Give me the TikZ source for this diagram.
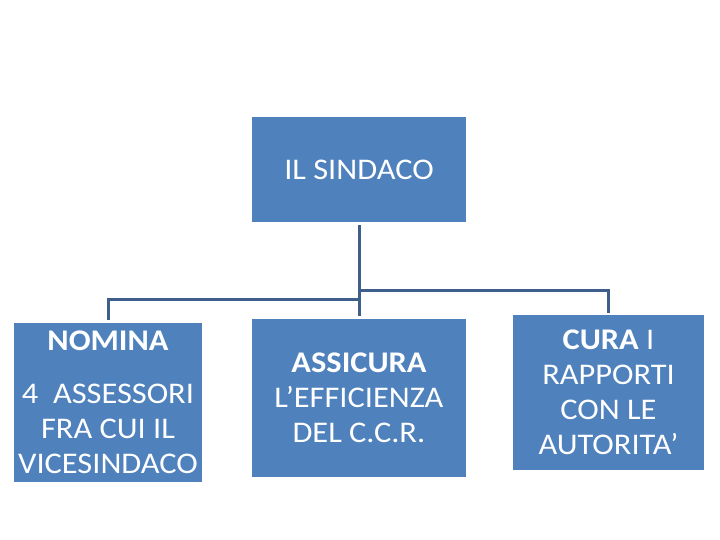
\documentclass[tikz,border=0pt]{standalone}
\usepackage{fontspec}
\setmainfont{Carlito}[FakeStretch=1.08]
\definecolor{boxblue}{HTML}{4F81BD}
\definecolor{linecol}{HTML}{3E5F8A}
\begin{document}
\begin{tikzpicture}[x=1pt,y=-1pt,
  orgbox/.style={fill=boxblue, draw=none, text=white, inner sep=0pt, align=center,
    font=\fontsize{30}{35}\selectfont},
  conn/.style={draw=linecol, line width=3pt}]
\useasboundingbox[fill=white] (0,0) rectangle (720,540);
\node[orgbox, minimum width=214pt, minimum height=105pt] (top) at (359,169.5) {IL SINDACO};
\node[orgbox, minimum width=188pt, minimum height=159pt] (left) at (108,402.5)
  {\textbf{NOMINA}\\[18pt]4\ \ ASSESSORI\\FRA CUI IL\\VICESINDACO};
\node[orgbox, minimum width=214pt, minimum height=158pt] (mid) at (359,398)
  {\textbf{ASSICURA}\\L’EFFICIENZA\\DEL C.C.R.};
\node[orgbox, minimum width=191pt, minimum height=155pt] (right) at (608.5,392.5)
  {\textbf{CURA} I\\RAPPORTI\\CON LE\\AUTORITA’};
\coordinate (jl) at (359,299);
\coordinate (jr) at (359,290);
\draw[conn] ([yshift=-3pt]top.south) -- ([yshift=3pt]mid.north);
\draw[conn] ([yshift=3pt]left.north) |- (jl);
\draw[conn] (jr) -| ([yshift=2pt]right.north);
\end{tikzpicture}
\end{document}
